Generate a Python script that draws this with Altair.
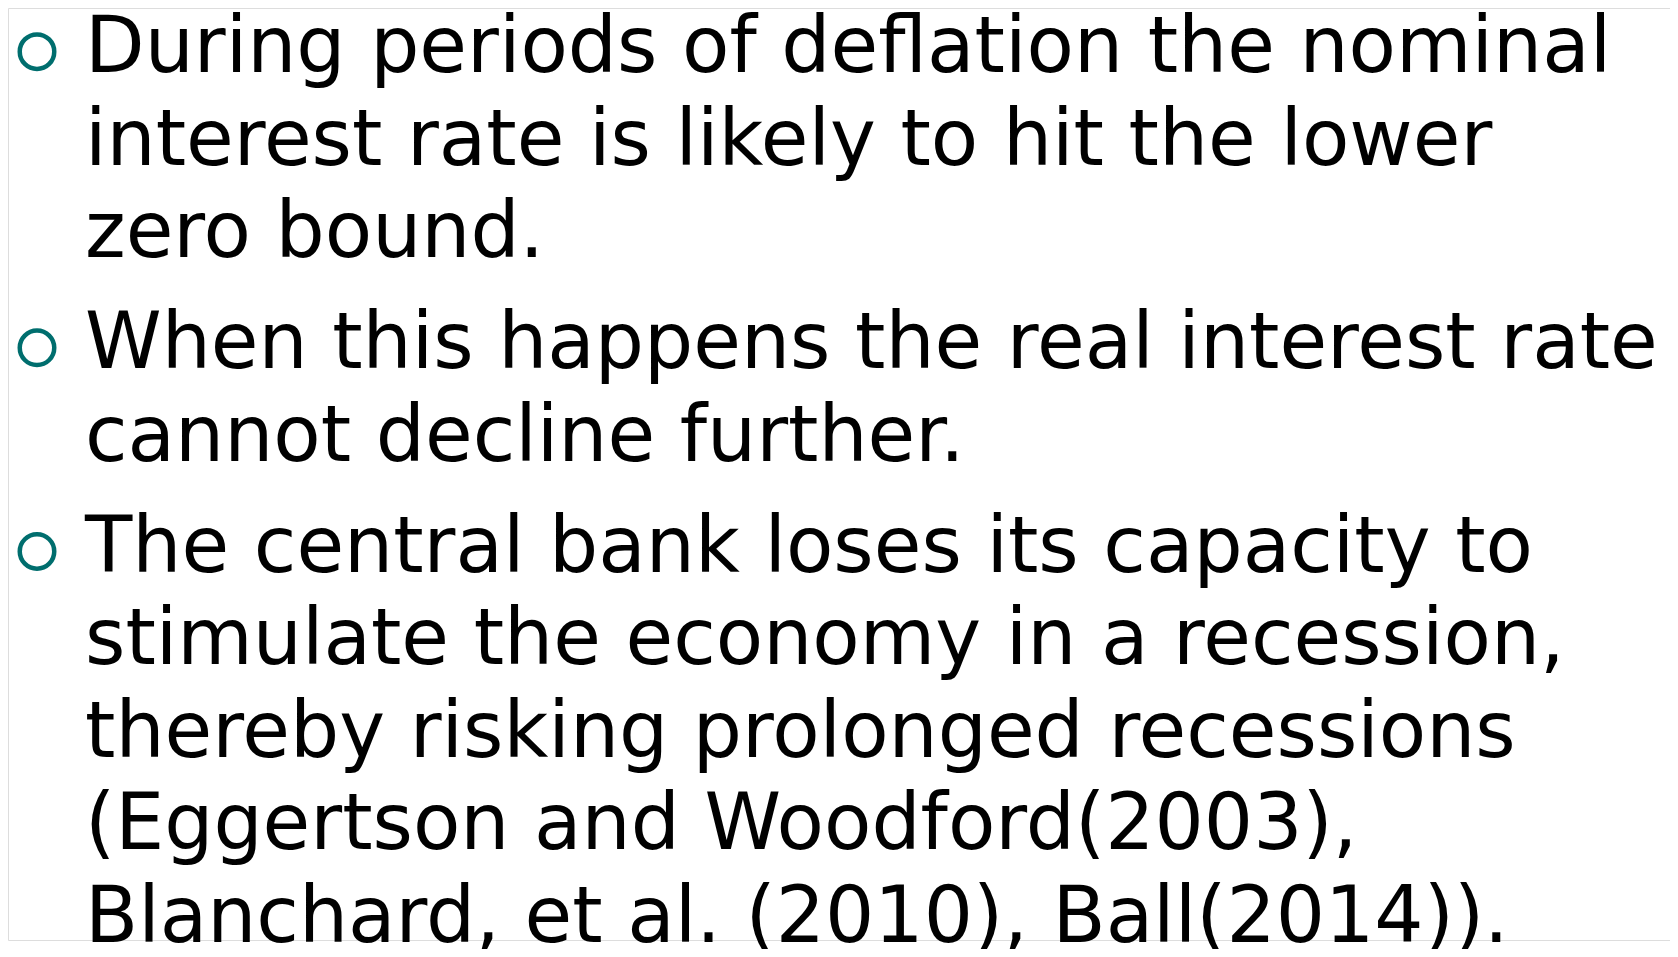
import altair as alt
import pandas as pd

# Slide content: bullets and their wrapped lines
bullet_ids = [0, 0, 0, 1, 1, 2, 2, 2, 2, 2]
line_in_bullet = [0, 1, 2, 0, 1, 0, 1, 2, 3, 4]
lines = [
    "During periods of deflation the nominal",
    "interest rate is likely to hit the lower",
    "zero bound.",
    "When this happens the real interest rate",
    "cannot decline further.",
    "The central bank loses its capacity to",
    "stimulate the economy in a recession,",
    "thereby risking prolonged recessions",
    "(Eggertson and Woodford(2003),",
    "Blanchard, et al. (2010), Ball(2014)).",
]

GAP = 0.2            # extra spacing between bullets, in line units
BULLET_RAISE = 0.22  # bullet centre above the baseline, in line units

rows = [i + GAP * b for i, b in enumerate(bullet_ids)]
text_df = pd.DataFrame({"row": rows, "text": lines})
bullet_df = pd.DataFrame({
    "row": [r - BULLET_RAISE for r, k in zip(rows, line_in_bullet) if k == 0]
})

yscale = alt.Scale(domain=[0, 9.4], range=[64, 934])

text_layer = alt.Chart(text_df).mark_text(
    align="left", baseline="alphabetic", font="DejaVu Sans",
    fontSize=77.5, color="#000000"
).encode(
    x=alt.value(77),
    y=alt.Y("row:Q", scale=yscale, axis=None),
    text="text:N",
)

bullet_layer = alt.Chart(bullet_df).mark_point(
    shape="circle", filled=False, stroke="#006E6E", strokeWidth=4.5,
    size=1190, opacity=1
).encode(
    x=alt.value(29),
    y=alt.Y("row:Q", scale=yscale, axis=None),
)

chart = alt.layer(bullet_layer, text_layer).properties(
    width=1662, height=941,
    autosize=alt.AutoSizeParams(type="fit", contains="padding"),
    padding=0,
).configure_view(strokeWidth=0, stroke="transparent").configure(background="#ffffff")

chart.save("out.html", embed_options={"renderer": "svg", "actions": False})
